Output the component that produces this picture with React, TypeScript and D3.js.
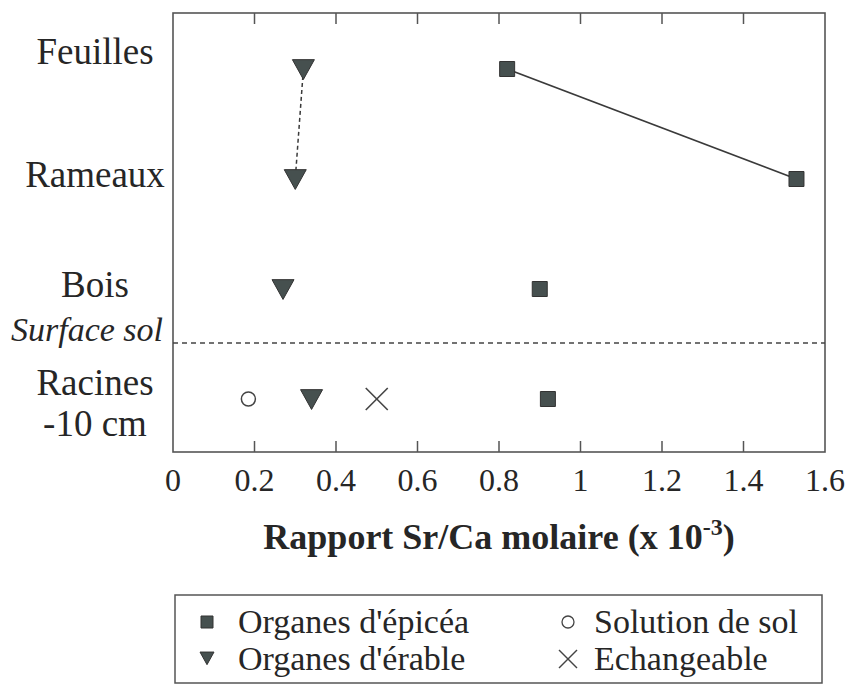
import React from "react";
import * as d3 from "d3";

const rows = ["Feuilles", "Rameaux", "Bois", "Racines"];
const rowLabels = [["Feuilles"], ["Rameaux"], ["Bois"], ["Racines", "-10 cm"]];
const epicea = [0.82, 1.53, 0.9, 0.92];
const erable = [0.32, 0.3, 0.27, 0.34];
const solution = [{ row: "Racines", v: 0.185 }];
const echangeable = [{ row: "Racines", v: 0.5 }];
const xTicks = [0, 0.2, 0.4, 0.6, 0.8, 1, 1.2, 1.4, 1.6];
const xTickLabels = ["0", "0.2", "0.4", "0.6", "0.8", "1", "1.2", "1.4", "1.6"];

const W = 848;
const H = 687;
const L = 173, R = 825, T = 13, B = 452;
const FONT = "Liberation Serif";
const MARK = "#46504f";
const INK = "#262626";

export default function App() {
  const x = d3.scaleLinear().domain([0, 1.6]).range([L, R]);
  const y = d3.scaleLinear().domain([0, 3]).range([69, 399]);
  const yRow = (r: string) => y(rows.indexOf(r));

  const tri = (cx: number, cy: number, s: number) =>
    `M${cx - s},${cy - s * 0.85}L${cx + s},${cy - s * 0.85}L${cx},${cy + s * 0.95}Z`;
  const sq = (cx: number, cy: number, s: number) =>
    `M${cx - s},${cy - s}h${2 * s}v${2 * s}h${-2 * s}Z`;

  const epiLine = d3.line<number>().x((d) => x(d)).y((_, i) => y(i));
  const labelDy = [-13, 0, 0, -12];

  return (
    <svg width={W} height={H} style={{ position: "absolute", left: 0, top: 0, background: "#fff", fontFamily: FONT }}>
      {/* frame */}
      <rect x={L} y={T} width={R - L} height={B - T} fill="none" stroke="#555" strokeWidth={1.6} />
      {xTicks.map((t, i) => (
        <g key={i}>
          {i > 0 && i < xTicks.length - 1 && (
            <>
              <line x1={x(t)} x2={x(t)} y1={T} y2={T + 11} stroke="#555" strokeWidth={1.5} />
              <line x1={x(t)} x2={x(t)} y1={B} y2={B - 11} stroke="#555" strokeWidth={1.5} />
            </>
          )}
          <text x={x(t)} y={491} textAnchor="middle" fontSize={32} fill={INK}>{xTickLabels[i]}</text>
        </g>
      ))}
      {/* surface line */}
      <line x1={L} x2={R} y1={y(2.5) - 1} y2={y(2.5) - 1} stroke="#444" strokeWidth={1.3} strokeDasharray="5,4" />
      {/* row labels */}
      {rowLabels.map((lines, i) =>
        lines.map((s, j) => (
          <text key={i + "-" + j} x={95} y={y(i) + labelDy[i] + j * 41} textAnchor="middle" fontSize={37} fill={INK} dominantBaseline="middle">{s}</text>
        ))
      )}
      <text x={11} y={333} fontSize={34} fontStyle="italic" fill={INK} dominantBaseline="middle">Surface sol</text>
      {/* connecting lines */}
      <path d={epiLine(epicea.slice(0, 2)) || ""} fill="none" stroke="#3a3a3a" strokeWidth={1.6} />
      <line x1={x(erable[0])} y1={y(0)} x2={x(erable[1])} y2={y(1)} stroke="#3a3a3a" strokeWidth={1.5} strokeDasharray="4,3" />
      {/* markers */}
      {epicea.map((v, i) => (
        <path key={"e" + i} d={sq(x(v), y(i), 7.5)} fill={MARK} stroke="#333" strokeWidth={1} />
      ))}
      {erable.map((v, i) => (
        <path key={"r" + i} d={tri(x(v), y(i), 11)} fill={MARK} stroke="#333" strokeWidth={1} />
      ))}
      {solution.map((d, i) => (
        <circle key={"s" + i} cx={x(d.v)} cy={yRow(d.row)} r={7} fill="none" stroke="#444" strokeWidth={1.5} />
      ))}
      {echangeable.map((d, i) => (
        <g key={"x" + i} stroke="#444" strokeWidth={1.6}>
          <line x1={x(d.v) - 11} y1={yRow(d.row) - 11} x2={x(d.v) + 11} y2={yRow(d.row) + 11} />
          <line x1={x(d.v) - 11} y1={yRow(d.row) + 11} x2={x(d.v) + 11} y2={yRow(d.row) - 11} />
        </g>
      ))}
      {/* axis title */}
      <text x={(L + R) / 2} y={549} textAnchor="middle" fontSize={36} fontWeight="bold" fill={INK}>
        Rapport Sr/Ca molaire (x 10<tspan dy={-14} fontSize={24}>-3</tspan><tspan dy={14}>)</tspan>
      </text>
      {/* legend */}
      <rect x={175} y={595} width={647} height={88} fill="none" stroke="#555" strokeWidth={1.5} />
      <path d={sq(207, 622, 6)} fill={MARK} stroke="#333" />
      <text x={238} y={633} fontSize={34} fill={INK}>Organes d'épicéa</text>
      <path d={tri(207, 658, 7)} fill={MARK} stroke="#333" />
      <text x={238} y={670} fontSize={34} fill={INK}>Organes d'érable</text>
      <circle cx={568} cy={622} r={6} fill="none" stroke="#444" strokeWidth={1.3} />
      <text x={594} y={633} fontSize={34} fill={INK}>Solution de sol</text>
      <g stroke="#444" strokeWidth={1.4}>
        <line x1={559} y1={650} x2={577} y2={668} />
        <line x1={559} y1={668} x2={577} y2={650} />
      </g>
      <text x={594} y={670} fontSize={34} fill={INK}>Echangeable</text>
    </svg>
  );
}
